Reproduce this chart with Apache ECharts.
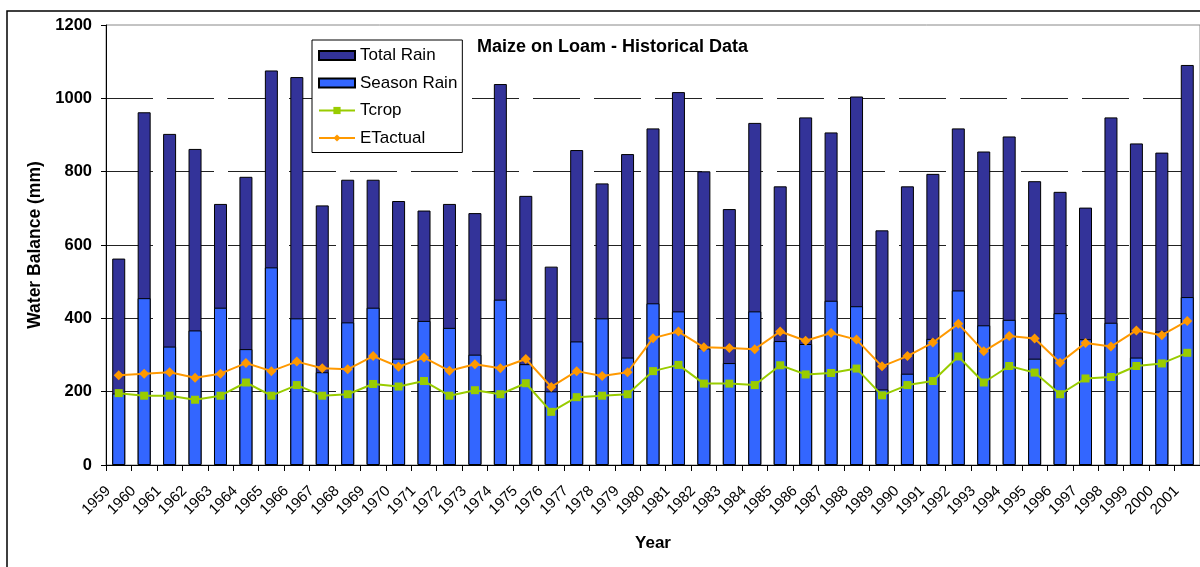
<!DOCTYPE html>
<html>
<head>
<meta charset="utf-8">
<script src="https://cdn.jsdelivr.net/npm/echarts@6/dist/echarts.min.js"></script>
<style>
html,body{margin:0;padding:0;background:#fff;}
#chart{width:1200px;height:567px;}
</style>
</head>
<body>
<div id="chart"></div>
<script>
var years = ['1959','1960','1961','1962','1963','1964','1965','1966','1967','1968','1969','1970','1971','1972','1973','1974','1975','1976','1977','1978','1979','1980','1981','1982','1983','1984','1985','1986','1987','1988','1989','1990','1991','1992','1993','1994','1995','1996','1997','1998','1999','2000','2001'];
var totalRain = [563,962,903,862,712,786,1076,1058,708,778,778,720,694,712,687,1039,734,541,859,768,848,918,1017,801,698,933,760,948,907,1005,640,760,794,918,855,896,774,745,702,948,877,852,1091];
var seasonRain = [195,455,323,367,429,316,539,400,253,389,429,290,393,374,301,451,275,201,337,400,293,441,419,318,278,419,338,330,448,433,206,249,344,476,381,396,290,414,343,388,293,364,458];
var tcrop = [196,189,189,178,189,225,189,218,189,193,221,214,229,189,204,193,223,145,185,189,193,256,273,222,222,218,272,247,251,263,190,218,229,296,225,270,252,193,236,240,270,277,306];
var etActual = [245,249,253,238,249,278,256,282,264,261,297,268,293,257,275,264,289,213,256,243,253,346,364,321,319,316,364,339,360,342,269,297,334,385,310,352,345,279,333,323,367,354,393];
var yTicks = [0,200,400,600,800,1000,1200];

var FONT = '"Liberation Sans", Arial, sans-serif';
var chart = echarts.init(document.getElementById('chart'), null, {renderer:'canvas'});
chart.setOption({
  animation: false,
  backgroundColor: '#fff',
  textStyle: {fontFamily: FONT, color: '#000'},
  graphic: [{
    type: 'rect', silent: true, z: -10,
    shape: {x: 7, y: 11, width: 1300, height: 700},
    style: {fill: 'none', stroke: '#000', lineWidth: 1.5}
  }],
  title: {
    text: 'Maize on Loam - Historical Data',
    left: 477, top: 38, padding: 0,
    textStyle: {fontFamily: FONT, fontSize: 18, fontWeight: 'bold', color: '#000'}
  },
  legend: {
    orient: 'vertical', left: 312, top: 40,
    padding: [7, 5, 6, 6],
    itemGap: 10.5, itemWidth: 36, itemHeight: 9,
    backgroundColor: '#fff', borderColor: '#000', borderWidth: 1,
    textStyle: {fontFamily: FONT, fontSize: 17, color: '#000'},
    data: [
      {name: 'Total Rain', icon: 'rect'},
      {name: 'Season Rain', icon: 'rect'},
      {name: 'Tcrop'},
      {name: 'ETactual'}
    ]
  },
  grid: {
    left: 106, right: 0, top: 25, bottom: 102,
    show: true, borderColor: '#888', borderWidth: 1, backgroundColor: 'transparent'
  },
  xAxis: {
    type: 'category', data: years,
    name: 'Year', nameLocation: 'middle', nameGap: 70,
    nameTextStyle: {fontFamily: FONT, fontSize: 17, fontWeight: 'bold', color: '#000'},
    axisLine: {lineStyle: {color: '#000', width: 1}},
    axisTick: {show: true, length: 6, lineStyle: {color: '#000'}},
    axisLabel: {interval: 0, rotate: 45, fontSize: 15, color: '#000', margin: 13, padding: [0, 15, 0, 0], fontFamily: FONT}
  },
  yAxis: {
    type: 'value', min: 0, max: 1200, interval: 200,
    name: 'Water Balance (mm)', nameLocation: 'middle', nameGap: 61,
    nameTextStyle: {fontFamily: FONT, fontSize: 17.5, fontWeight: 'bold', color: '#000'},
    axisLine: {show: true, lineStyle: {color: '#000', width: 1}},
    axisTick: {show: true, length: 5, lineStyle: {color: '#000'}},
    axisLabel: {fontSize: 16.5, fontWeight: 'bold', color: '#000', margin: 14, fontFamily: FONT,
      formatter: function(v){ return yTicks.indexOf(v) >= 0 ? String(v) : ''; }},
    splitLine: {show: true, showMinLine: false, showMaxLine: false,
      lineStyle: {color: '#222', width: 1, type: [47, 14]}}
  },
  series: [
    {
      name: 'Total Rain', type: 'bar', data: totalRain,
      barWidth: 13, barGap: '-100%',
      itemStyle: {color: '#333399', borderColor: '#000', borderWidth: 1}
    },
    {
      name: 'Season Rain', type: 'bar', data: seasonRain,
      barWidth: 13, barGap: '-100%',
      itemStyle: {color: '#3366FF', borderColor: '#000', borderWidth: 1}
    },
    {
      name: 'Tcrop', type: 'line', data: tcrop,
      symbol: 'rect', symbolSize: 8, showAllSymbol: true,
      lineStyle: {color: '#99CC00', width: 2},
      itemStyle: {color: '#99CC00'}
    },
    {
      name: 'ETactual', type: 'line', data: etActual,
      symbol: 'diamond', symbolSize: 10, showAllSymbol: true,
      lineStyle: {color: '#FF9900', width: 2},
      itemStyle: {color: '#FF9900'}
    }
  ]
});
</script>
</body>
</html>
